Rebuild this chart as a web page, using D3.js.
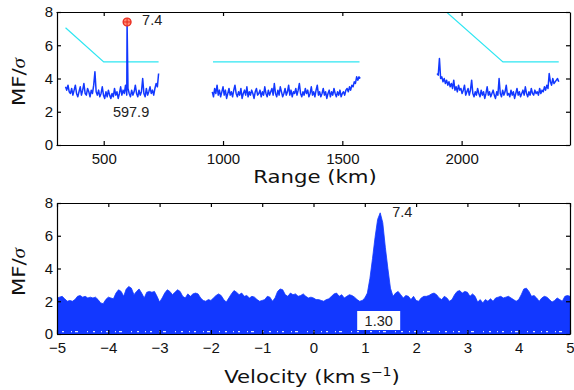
<!DOCTYPE html>
<html>
<head>
<meta charset="utf-8">
<script src="https://cdn.jsdelivr.net/npm/d3@7"></script>
<style>
  body { margin: 0; background: #fff; }
  svg { display: block; }
  .tick text { font-family: 'Liberation Sans', Arial, sans-serif; font-size: 15px; fill: #111; }
  .axis path, .axis line { stroke: #000; stroke-width: 1.2; }
  .lbl { font-family: 'DejaVu Sans', sans-serif; font-size: 18px; fill: #111; }
  .note { font-family: 'Liberation Sans', Arial, sans-serif; font-size: 14.5px; fill: #222; }
</style>
</head>
<body>
<svg width="574" height="390"></svg>
<script>
// ---- data ----
const rangeTicks = [500, 1000, 1500, 2000];
const mfTicks = [0, 2, 4, 6, 8];
const velTicks = [-5, -4, -3, -2, -1, 0, 1, 2, 3, 4, 5];

// top panel: three range windows of MF/sigma
const seg1Range = [340, 730];
const seg1Mf = [3.5,3.3,3.6,3.2,3.1,3.4,3.0,3.3,3.6,3.1,2.9,3.2,3.5,3.0,3.3,3.7,3.1,3.0,3.4,3.2,
  2.9,3.3,3.1,3.6,4.4,3.2,3.0,3.3,2.9,3.1,3.5,3.0,2.8,3.2,2.9,3.3,3.0,2.8,3.1,2.9,
  3.4,3.0,3.2,2.8,3.1,3.5,3.0,3.3,3.1,3.6,3.0,3.4,3.1,2.9,3.3,3.0,3.2,3.6,3.1,2.9,
  3.3,3.0,3.2,4.0,3.1,2.9,3.4,3.0,3.2,3.5,3.1,3.3,3.0,3.4,3.7,3.5,4.3];
const seg2Range = [955, 1575];
const seg2Mf = [3.2,2.9,3.4,3.1,3.6,3.0,3.3,2.9,3.2,3.5,
  3.0,3.3,2.8,3.1,3.4,3.0,3.2,2.9,3.3,3.6,
  3.1,2.9,3.2,3.0,3.4,2.8,3.1,3.3,3.0,3.5,
  2.9,3.2,3.0,3.3,3.1,2.8,3.2,3.4,3.0,3.1,
  3.3,2.9,3.2,3.0,3.5,3.1,2.9,3.3,3.0,3.2,
  3.4,3.0,3.7,3.1,2.9,3.3,3.0,3.5,3.2,2.9,
  3.1,3.4,3.0,3.2,3.6,3.0,3.3,2.9,3.2,3.1,
  3.4,3.0,3.3,3.7,3.1,2.9,3.2,3.0,3.4,3.1,
  3.3,2.9,3.1,3.5,3.0,3.2,2.9,3.3,3.6,3.0,
  3.2,2.9,3.1,3.4,3.0,3.2,2.8,3.1,3.3,2.9,
  3.2,3.0,3.4,3.1,2.9,3.2,3.0,3.3,2.9,3.1,
  3.2,3.0,3.3,3.4,3.2,3.5,3.3,3.6,3.5,3.8,
  3.7,4.1,3.9,4.1,4.0];
const seg3Range = [1897, 2407];
const seg3Mf = [4.3,4.2,5.2,4.0,4.1,3.8,4.0,3.7,3.9,3.6,
  3.8,3.5,3.7,3.4,3.9,3.3,3.5,3.2,3.6,3.3,
  3.4,3.1,3.3,3.6,3.0,3.2,3.4,3.0,3.3,3.9,
  3.1,2.9,3.2,3.0,3.4,3.1,2.9,3.3,3.0,3.2,
  2.8,3.1,3.5,3.0,3.2,2.9,3.1,3.3,3.0,2.8,
  3.2,3.0,4.0,3.1,2.9,3.3,3.0,3.2,3.6,3.0,
  3.1,2.9,3.3,3.0,3.2,2.8,3.1,3.4,3.0,3.2,
  2.9,3.1,3.3,3.0,3.5,3.1,2.9,3.2,3.0,3.4,
  3.1,3.0,3.3,3.1,3.2,3.0,3.4,3.1,3.3,3.2,
  3.5,3.3,3.6,3.4,4.3,3.8,3.6,4.0,3.7,3.8,
  3.9,4.0,3.8];

// detection thresholds (cyan)
const thr1Km = [340, 500, 730];   const thr1Mf = [7.05, 5, 5];
const thr2Km = [958, 1572];       const thr2Mf = [5, 5];
const thr3Km = [1897, 2173, 2407]; const thr3Mf = [8.5, 5, 5];

const peakKm = 597.9;
const peakMf = 7.4;

// bottom panel: upper envelope of MF/sigma vs velocity, step 0.05 km/s from -5
const velStart = -5, velStep = 0.05;
const velMf = [2.2,2.25,2.3,2.15,2.0,2.05,2.0,2.1,2.3,2.35,
  2.25,2.3,2.2,2.25,2.2,2.25,2.1,1.9,1.85,2.1,
  2.25,2.2,2.15,2.5,2.7,2.6,2.3,2.75,2.9,2.8,
  2.4,2.6,2.75,2.5,2.2,2.55,2.6,2.55,2.6,2.3,
  1.95,2.2,2.5,2.7,2.6,2.4,2.55,2.7,2.6,2.3,
  2.2,2.45,2.3,2.45,2.5,2.45,2.2,2.05,2.0,2.1,
  2.05,2.2,2.35,2.45,2.35,2.1,1.95,2.2,2.45,2.65,
  2.55,2.4,2.5,2.3,2.35,2.2,2.3,2.25,2.1,2.0,
  2.05,2.1,2.3,2.25,2.0,2.2,2.6,2.75,2.7,2.4,
  2.3,2.5,2.4,2.45,2.3,2.35,2.45,2.3,2.2,2.25,
  2.2,2.1,2.1,2.05,2.0,2.1,2.15,2.3,2.45,2.5,
  2.3,2.4,2.2,2.3,2.4,2.35,2.25,2.1,2.0,2.05,
  2.2,2.5,3.4,4.6,5.9,7.0,7.4,6.8,5.3,4.0,
  2.8,2.3,2.5,2.6,2.4,2.2,2.35,2.3,2.1,2.3,
  2.05,2.0,2.2,2.3,2.3,2.35,2.45,2.5,2.4,2.2,
  2.1,2.3,2.2,2.0,2.1,2.4,2.6,2.65,2.5,2.6,
  2.55,2.3,2.45,2.3,1.95,2.1,1.9,2.1,2.0,2.15,
  2.0,2.2,2.25,2.3,2.2,2.25,2.3,2.2,2.1,2.0,
  2.1,2.4,2.75,2.8,2.6,2.3,2.35,2.2,2.0,2.2,
  2.3,2.25,2.1,1.95,2.05,2.2,2.1,2.0,2.3,2.35,
  2.3];
const velPeak = 1.30;
const velPeakMf = 7.4;

// ---- layout ----
const svg = d3.select('svg');
const left = 57, right = 570;
const top1 = 12, bottom1 = 145;
const top2 = 203, bottom2 = 334;
const blue = '#1238ff';
const cyan = '#2ee6f2';

const x1 = d3.scaleLinear().domain([300, 2450]).range([left - 1, right - 1]);
const y1 = d3.scaleLinear().domain([0, 8]).range([bottom1, top1]);
const x2 = d3.scaleLinear().domain([-5, 5]).range([left, right]);
const y2 = d3.scaleLinear().domain([0, 8]).range([bottom2, top2]);

function toPoints(range, vals) {
  const step = (range[1] - range[0]) / (vals.length - 1);
  return vals.map((v, i) => [range[0] + i * step, v]);
}

function frame(x, y, y0, y1px, ticksX) {
  const g = svg.append('g');
  const bx = d3.axisBottom(x).tickValues(ticksX).tickFormat(d3.format('d'))
    .tickSizeInner(-4).tickSizeOuter(0).tickPadding(8);
  g.append('g').attr('class', 'axis').attr('transform', `translate(0,${y0})`).call(bx);
  g.append('g').attr('class', 'axis').attr('transform', `translate(0,${y1px})`)
    .call(d3.axisTop(x).tickValues(ticksX).tickSizeInner(-4).tickSizeOuter(0).tickFormat(''));
  g.append('g').attr('class', 'axis').attr('transform', `translate(${left},0)`)
    .call(d3.axisLeft(y).tickValues(mfTicks).tickSizeInner(-4).tickSizeOuter(0).tickPadding(4));
  g.append('g').attr('class', 'axis').attr('transform', `translate(${right},0)`)
    .call(d3.axisRight(y).tickValues(mfTicks).tickSizeInner(-4).tickSizeOuter(0).tickFormat(''));
  return g;
}

// clip paths
const defs = svg.append('defs');
defs.append('clipPath').attr('id', 'c1').append('rect')
  .attr('x', left).attr('y', top1).attr('width', right - left).attr('height', bottom1 - top1);
defs.append('clipPath').attr('id', 'c2').append('rect')
  .attr('x', left).attr('y', top2).attr('width', right - left).attr('height', bottom2 - top2);

// ---- top panel ----
const line1 = d3.line().x(d => x1(d[0])).y(d => y1(d[1]));
const p1 = svg.append('g').attr('clip-path', 'url(#c1)');

[[thr1Km, thr1Mf], [thr2Km, thr2Mf], [thr3Km, thr3Mf]].forEach(([k, m]) => {
  p1.append('path').datum(k.map((v, i) => [v, m[i]]))
    .attr('d', line1).attr('fill', 'none').attr('stroke', cyan).attr('stroke-width', 1.2);
});

const s1 = toPoints(seg1Range, seg1Mf).concat([[peakKm, peakMf]]).sort((a, b) => a[0] - b[0]);
[s1, toPoints(seg2Range, seg2Mf), toPoints(seg3Range, seg3Mf)].forEach(pts => {
  p1.append('path').datum(pts).attr('d', line1)
    .attr('fill', 'none').attr('stroke', blue).attr('stroke-width', 1.5).attr('stroke-linejoin', 'round');
});

// peak marker
const mk = svg.append('g').attr('transform', `translate(${x1(peakKm)},${y1(peakMf)})`);
mk.append('circle').attr('r', 4).attr('fill', '#ff8a70').attr('stroke', '#e8281c').attr('stroke-width', 1.2);
mk.append('path').attr('d', 'M-4,0H4M0,-4V4').attr('stroke', '#e8281c').attr('stroke-width', 1);

svg.append('text').attr('class', 'note').attr('x', x1(peakKm) + 15).attr('y', y1(peakMf) + 3)
  .text(peakMf.toFixed(1));
svg.append('text').attr('class', 'note').attr('x', x1(peakKm) + 4).attr('y', 117)
  .attr('text-anchor', 'middle').text(peakKm.toFixed(1));

frame(x1, y1, bottom1, top1, rangeTicks);

// ---- bottom panel ----
const velPts = velMf.map((v, i) => [velStart + i * velStep, v]);
const p2 = svg.append('g').attr('clip-path', 'url(#c2)');
p2.append('path').datum(velPts)
  .attr('d', d3.area().x(d => x2(d[0])).y0(y2(0)).y1(d => y2(d[1])))
  .attr('fill', blue).attr('stroke', blue).attr('stroke-width', 0.8);
// faint gaps of the dense trace near zero
p2.append('line').attr('x1', x2(-5)).attr('x2', x2(5)).attr('y1', y2(0.15)).attr('y2', y2(0.15))
  .attr('stroke', '#dfe6ff').attr('stroke-width', 1.2)
  .attr('stroke-dasharray', '1,4,2,7,1,3,3,9,1,5,2,6');

svg.append('text').attr('class', 'note').attr('x', x2(velPeak) + 12).attr('y', y2(velPeakMf) + 4)
  .text(velPeakMf.toFixed(1));
const bx0 = x2(velPeak) - 23;
svg.append('rect').attr('x', bx0).attr('y', 311).attr('width', 43).attr('height', 19).attr('fill', '#fff');
svg.append('text').attr('class', 'note').attr('x', bx0 + 21.5).attr('y', 325.5)
  .attr('text-anchor', 'middle').text(velPeak.toFixed(2));

frame(x2, y2, bottom2, top2, velTicks);

// ---- axis labels ----
const sx = 1.18;
function ylabel(cy) {
  const t = svg.append('g').attr('transform', `translate(25,${cy}) rotate(-90) scale(${sx},1)`)
    .append('text').attr('class', 'lbl').attr('text-anchor', 'middle');
  t.append('tspan').text('MF/');
  t.append('tspan').attr('font-family', 'Liberation Serif, serif').attr('font-style', 'italic').text('σ');
}
ylabel(82);
ylabel(272);

svg.append('g').attr('transform', `translate(315,183) scale(${sx},1)`)
  .append('text').attr('class', 'lbl').attr('text-anchor', 'middle').text('Range (km)');

const vl = svg.append('g').attr('transform', `translate(312,383) scale(${sx},1)`)
  .append('text').attr('class', 'lbl').attr('text-anchor', 'middle');
vl.append('tspan').text('Velocity (km\u2009s');
vl.append('tspan').attr('font-size', 12).attr('dy', -7).text('\u22121');
vl.append('tspan').attr('dy', 7).text(')');
</script>
</body>
</html>
